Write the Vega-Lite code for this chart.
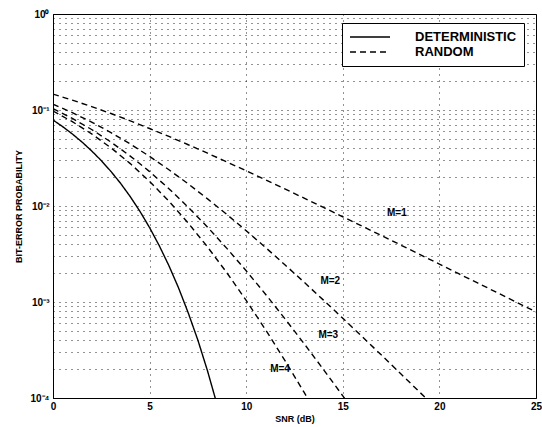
{
  "$schema": "https://vega.github.io/schema/vega-lite/v6.json",
  "autosize": "none",
  "width": 483,
  "height": 384,
  "padding": {"left": 53, "top": 14, "right": 6, "bottom": 29},
  "background": "white",
  "datasets": {
    "curves": [
      {"snr": 0, "ber": 0.0786, "curve": "DET", "type": "DETERMINISTIC"},
      {"snr": 0.5, "ber": 0.0671, "curve": "DET", "type": "DETERMINISTIC"},
      {"snr": 1, "ber": 0.0563, "curve": "DET", "type": "DETERMINISTIC"},
      {"snr": 1.5, "ber": 0.0464, "curve": "DET", "type": "DETERMINISTIC"},
      {"snr": 2, "ber": 0.0375, "curve": "DET", "type": "DETERMINISTIC"},
      {"snr": 2.5, "ber": 0.0297, "curve": "DET", "type": "DETERMINISTIC"},
      {"snr": 3, "ber": 0.0229, "curve": "DET", "type": "DETERMINISTIC"},
      {"snr": 3.5, "ber": 0.0172, "curve": "DET", "type": "DETERMINISTIC"},
      {"snr": 4, "ber": 0.0125, "curve": "DET", "type": "DETERMINISTIC"},
      {"snr": 4.5, "ber": 0.0088, "curve": "DET", "type": "DETERMINISTIC"},
      {"snr": 5, "ber": 0.00595, "curve": "DET", "type": "DETERMINISTIC"},
      {"snr": 5.5, "ber": 0.00386, "curve": "DET", "type": "DETERMINISTIC"},
      {"snr": 6, "ber": 0.00239, "curve": "DET", "type": "DETERMINISTIC"},
      {"snr": 6.5, "ber": 0.0014, "curve": "DET", "type": "DETERMINISTIC"},
      {"snr": 7, "ber": 0.00077, "curve": "DET", "type": "DETERMINISTIC"},
      {"snr": 7.5, "ber": 0.0004, "curve": "DET", "type": "DETERMINISTIC"},
      {"snr": 8, "ber": 0.000191, "curve": "DET", "type": "DETERMINISTIC"},
      {"snr": 8.5, "ber": 0.0000843, "curve": "DET", "type": "DETERMINISTIC"},
      {"snr": 9, "ber": 0.0000336, "curve": "DET", "type": "DETERMINISTIC"},

      {"snr": 0, "ber": 0.14645, "curve": "M1", "type": "RANDOM"},
      {"snr": 1, "ber": 0.12673, "curve": "M1", "type": "RANDOM"},
      {"snr": 2, "ber": 0.10849, "curve": "M1", "type": "RANDOM"},
      {"snr": 3, "ber": 0.09191, "curve": "M1", "type": "RANDOM"},
      {"snr": 4, "ber": 0.07713, "curve": "M1", "type": "RANDOM"},
      {"snr": 5, "ber": 0.06418, "curve": "M1", "type": "RANDOM"},
      {"snr": 6, "ber": 0.053, "curve": "M1", "type": "RANDOM"},
      {"snr": 7, "ber": 0.04347, "curve": "M1", "type": "RANDOM"},
      {"snr": 8, "ber": 0.03546, "curve": "M1", "type": "RANDOM"},
      {"snr": 9, "ber": 0.02878, "curve": "M1", "type": "RANDOM"},
      {"snr": 10, "ber": 0.02327, "curve": "M1", "type": "RANDOM"},
      {"snr": 11, "ber": 0.01874, "curve": "M1", "type": "RANDOM"},
      {"snr": 12, "ber": 0.01506, "curve": "M1", "type": "RANDOM"},
      {"snr": 13, "ber": 0.01207, "curve": "M1", "type": "RANDOM"},
      {"snr": 14, "ber": 0.00966, "curve": "M1", "type": "RANDOM"},
      {"snr": 15, "ber": 0.00772, "curve": "M1", "type": "RANDOM"},
      {"snr": 16, "ber": 0.00616, "curve": "M1", "type": "RANDOM"},
      {"snr": 17, "ber": 0.00492, "curve": "M1", "type": "RANDOM"},
      {"snr": 18, "ber": 0.00392, "curve": "M1", "type": "RANDOM"},
      {"snr": 19, "ber": 0.00312, "curve": "M1", "type": "RANDOM"},
      {"snr": 20, "ber": 0.00248, "curve": "M1", "type": "RANDOM"},
      {"snr": 21, "ber": 0.00197, "curve": "M1", "type": "RANDOM"},
      {"snr": 22, "ber": 0.00157, "curve": "M1", "type": "RANDOM"},
      {"snr": 23, "ber": 0.00125, "curve": "M1", "type": "RANDOM"},
      {"snr": 24, "ber": 0.000992, "curve": "M1", "type": "RANDOM"},
      {"snr": 25, "ber": 0.000788, "curve": "M1", "type": "RANDOM"},

      {"snr": 0, "ber": 0.1151, "curve": "M2", "type": "RANDOM"},
      {"snr": 1, "ber": 0.09388, "curve": "M2", "type": "RANDOM"},
      {"snr": 2, "ber": 0.0748, "curve": "M2", "type": "RANDOM"},
      {"snr": 3, "ber": 0.05822, "curve": "M2", "type": "RANDOM"},
      {"snr": 4, "ber": 0.04424, "curve": "M2", "type": "RANDOM"},
      {"snr": 5, "ber": 0.03286, "curve": "M2", "type": "RANDOM"},
      {"snr": 6, "ber": 0.02387, "curve": "M2", "type": "RANDOM"},
      {"snr": 7, "ber": 0.01699, "curve": "M2", "type": "RANDOM"},
      {"snr": 8, "ber": 0.011873, "curve": "M2", "type": "RANDOM"},
      {"snr": 9, "ber": 0.008161, "curve": "M2", "type": "RANDOM"},
      {"snr": 10, "ber": 0.005528, "curve": "M2", "type": "RANDOM"},
      {"snr": 11, "ber": 0.003698, "curve": "M2", "type": "RANDOM"},
      {"snr": 12, "ber": 0.002448, "curve": "M2", "type": "RANDOM"},
      {"snr": 13, "ber": 0.001606, "curve": "M2", "type": "RANDOM"},
      {"snr": 14, "ber": 0.001046, "curve": "M2", "type": "RANDOM"},
      {"snr": 15, "ber": 0.000677, "curve": "M2", "type": "RANDOM"},
      {"snr": 16, "ber": 0.000436, "curve": "M2", "type": "RANDOM"},
      {"snr": 17, "ber": 0.00028, "curve": "M2", "type": "RANDOM"},
      {"snr": 18, "ber": 0.000179, "curve": "M2", "type": "RANDOM"},
      {"snr": 19, "ber": 0.000114, "curve": "M2", "type": "RANDOM"},
      {"snr": 20, "ber": 0.0000726, "curve": "M2", "type": "RANDOM"},

      {"snr": 0, "ber": 0.10352, "curve": "M3", "type": "RANDOM"},
      {"snr": 1, "ber": 0.08183, "curve": "M3", "type": "RANDOM"},
      {"snr": 2, "ber": 0.06266, "curve": "M3", "type": "RANDOM"},
      {"snr": 3, "ber": 0.04636, "curve": "M3", "type": "RANDOM"},
      {"snr": 4, "ber": 0.03311, "curve": "M3", "type": "RANDOM"},
      {"snr": 5, "ber": 0.02281, "curve": "M3", "type": "RANDOM"},
      {"snr": 6, "ber": 0.015143, "curve": "M3", "type": "RANDOM"},
      {"snr": 7, "ber": 0.009707, "curve": "M3", "type": "RANDOM"},
      {"snr": 8, "ber": 0.00602, "curve": "M3", "type": "RANDOM"},
      {"snr": 9, "ber": 0.003617, "curve": "M3", "type": "RANDOM"},
      {"snr": 10, "ber": 0.0021138, "curve": "M3", "type": "RANDOM"},
      {"snr": 11, "ber": 0.0012044, "curve": "M3", "type": "RANDOM"},
      {"snr": 12, "ber": 0.0006717, "curve": "M3", "type": "RANDOM"},
      {"snr": 13, "ber": 0.0003675, "curve": "M3", "type": "RANDOM"},
      {"snr": 14, "ber": 0.0001979, "curve": "M3", "type": "RANDOM"},
      {"snr": 15, "ber": 0.0001052, "curve": "M3", "type": "RANDOM"},
      {"snr": 16, "ber": 0.0000552, "curve": "M3", "type": "RANDOM"},

      {"snr": 0, "ber": 0.09751, "curve": "M4", "type": "RANDOM"},
      {"snr": 1, "ber": 0.07561, "curve": "M4", "type": "RANDOM"},
      {"snr": 2, "ber": 0.05643, "curve": "M4", "type": "RANDOM"},
      {"snr": 3, "ber": 0.0404, "curve": "M4", "type": "RANDOM"},
      {"snr": 4, "ber": 0.02765, "curve": "M4", "type": "RANDOM"},
      {"snr": 5, "ber": 0.018048, "curve": "M4", "type": "RANDOM"},
      {"snr": 6, "ber": 0.011217, "curve": "M4", "type": "RANDOM"},
      {"snr": 7, "ber": 0.006637, "curve": "M4", "type": "RANDOM"},
      {"snr": 8, "ber": 0.0037426, "curve": "M4", "type": "RANDOM"},
      {"snr": 9, "ber": 0.0020143, "curve": "M4", "type": "RANDOM"},
      {"snr": 10, "ber": 0.0010388, "curve": "M4", "type": "RANDOM"},
      {"snr": 11, "ber": 0.0005148, "curve": "M4", "type": "RANDOM"},
      {"snr": 12, "ber": 0.0002463, "curve": "M4", "type": "RANDOM"},
      {"snr": 13, "ber": 0.0001142, "curve": "M4", "type": "RANDOM"},
      {"snr": 14, "ber": 0.0000516, "curve": "M4", "type": "RANDOM"}
    ],
    "labels": [
      {"snr": 17.8, "ber": 0.0085, "label": "M=1"},
      {"snr": 14.35, "ber": 0.00166, "label": "M=2"},
      {"snr": 14.25, "ber": 0.000452, "label": "M=3"},
      {"snr": 11.75, "ber": 0.0002, "label": "M=4"}
    ]
  },
  "config": {
    "font": "Liberation Sans",
    "view": {"stroke": "black", "strokeWidth": 1},
    "axis": {
      "domainColor": "black",
      "domainWidth": 1,
      "grid": true,
      "gridColor": "black",
      "gridDash": [1, 5],
      "gridWidth": 1,
      "gridOpacity": 0.85,
      "ticks": false,
      "labelFont": "Liberation Sans",
      "labelFontWeight": "bold",
      "labelFontSize": 10,
      "labelColor": "black",
      "labelFlush": false,
      "labelOverlap": false,
      "titleFont": "Liberation Sans",
      "titleFontWeight": "bold",
      "titleFontSize": 9,
      "titleColor": "black"
    },
    "legend": {
      "orient": "none",
      "legendX": 289,
      "legendY": 9,
      "strokeColor": "black",
      "fillColor": "white",
      "padding": 7,
      "symbolType": "M-1,0H5.67",
      "symbolSize": 144,
      "symbolStrokeColor": "black",
      "symbolFillColor": "transparent",
      "symbolStrokeWidth": 1.5,
      "labelFont": "Liberation Sans",
      "labelFontWeight": "bold",
      "labelFontSize": 13,
      "labelColor": "black",
      "labelOffset": 52,
      "rowPadding": 1
    }
  },
  "layer": [
    {
      "data": {"name": "curves"},
      "mark": {"type": "line", "clip": true, "color": "black", "strokeWidth": 1.4},
      "encoding": {
        "x": {
          "field": "snr",
          "type": "quantitative",
          "scale": {"domain": [0, 25], "nice": false, "zero": false},
          "axis": {
            "title": "SNR (dB)",
            "values": [0, 5, 10, 15, 20, 25],
            "labelPadding": 3,
            "titlePadding": 3
          }
        },
        "y": {
          "field": "ber",
          "type": "quantitative",
          "scale": {"type": "log", "domain": [0.0001, 1], "nice": false},
          "axis": {
            "title": "BIT-ERROR PROBABILITY",
            "values": [0.0001, 0.0002, 0.0003, 0.0004, 0.0005, 0.0006, 0.0007, 0.0008, 0.0009,
                       0.001, 0.002, 0.003, 0.004, 0.005, 0.006, 0.007, 0.008, 0.009,
                       0.01, 0.02, 0.03, 0.04, 0.05, 0.06, 0.07, 0.08, 0.09,
                       0.1, 0.2, 0.3, 0.4, 0.5, 0.6, 0.7, 0.8, 0.9, 1],
            "labelExpr": "datum.value == 1 ? '10⁰' : datum.value == 0.1 ? '10⁻¹' : datum.value == 0.01 ? '10⁻²' : datum.value == 0.001 ? '10⁻³' : datum.value == 0.0001 ? '10⁻⁴' : ''",
            "labelPadding": 4,
            "titlePadding": 6
          }
        },
        "detail": {"field": "curve"},
        "strokeDash": {
          "field": "type",
          "type": "nominal",
          "scale": {"domain": ["DETERMINISTIC", "RANDOM"], "range": [[1, 0], [6, 4]]},
          "legend": {"title": null}
        }
      }
    },
    {
      "data": {"name": "labels"},
      "mark": {"type": "text", "font": "Liberation Sans", "fontWeight": "bold", "fontSize": 10, "color": "black", "align": "center", "baseline": "middle"},
      "encoding": {
        "x": {"field": "snr", "type": "quantitative"},
        "y": {"field": "ber", "type": "quantitative"},
        "text": {"field": "label"}
      }
    }
  ]
}
